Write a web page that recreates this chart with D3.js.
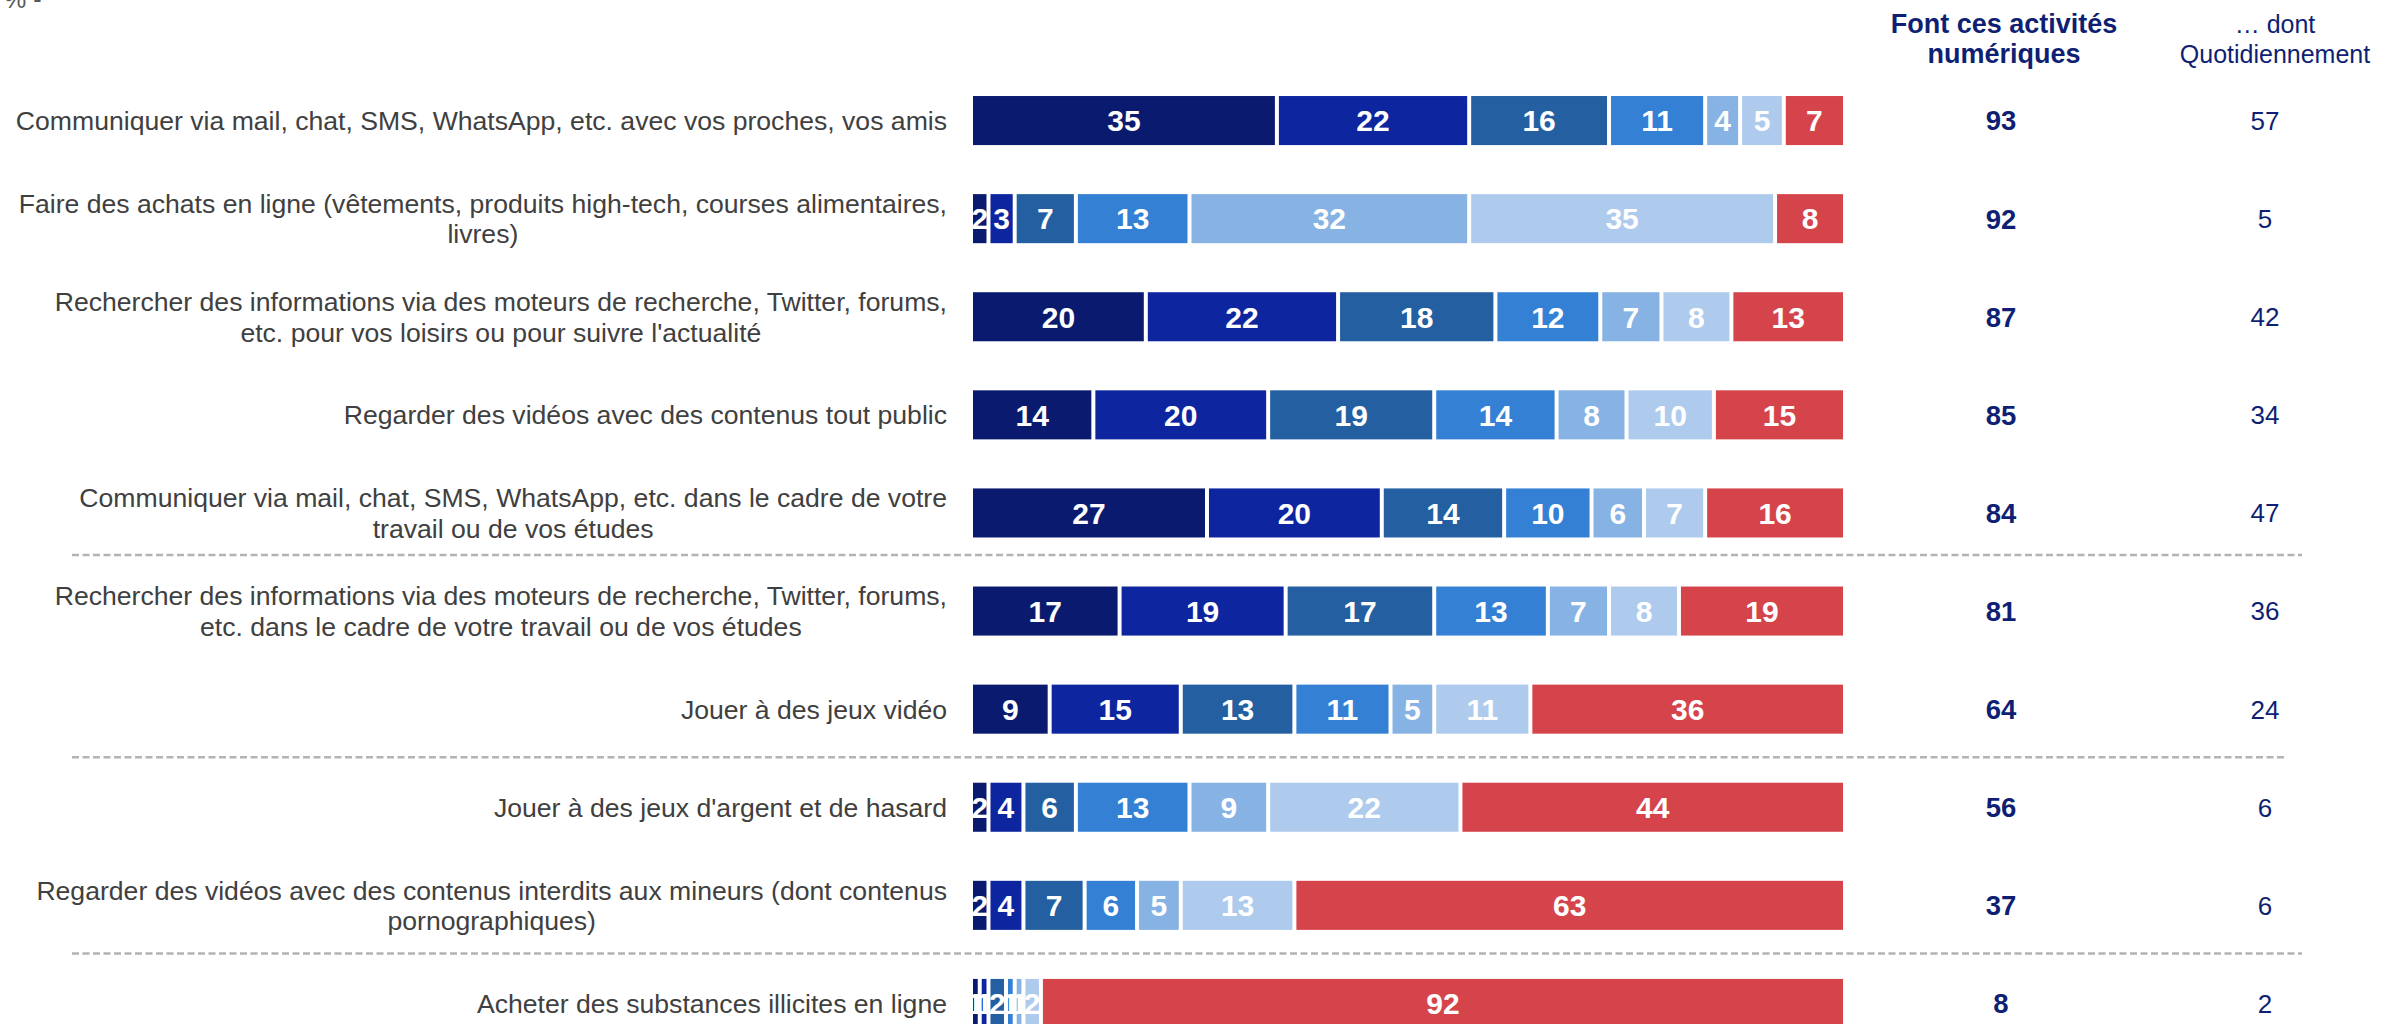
<!DOCTYPE html>
<html>
<head>
<meta charset="utf-8">
<script src="https://cdn.jsdelivr.net/npm/d3@7"></script>
<style>
  html, body { margin: 0; padding: 0; background: #fff; }
  svg { display: block; }
  text { font-family: "Liberation Sans", Arial, sans-serif; }
</style>
</head>
<body>
<svg id="chart" width="2382" height="1024"></svg>
<script>
// ---------- DATA ----------
const categories = [
  ["Communiquer via mail, chat, SMS, WhatsApp, etc. avec vos proches, vos amis"],
  ["Faire des achats en ligne (vêtements, produits high-tech, courses alimentaires,", "livres)"],
  ["Rechercher des informations via des moteurs de recherche, Twitter, forums,", "etc. pour vos loisirs ou pour suivre l'actualité"],
  ["Regarder des vidéos avec des contenus tout public"],
  ["Communiquer via mail, chat, SMS, WhatsApp, etc. dans le cadre de votre", "travail ou de vos études"],
  ["Rechercher des informations via des moteurs de recherche, Twitter, forums,", "etc. dans le cadre de votre travail ou de vos études"],
  ["Jouer à des jeux vidéo"],
  ["Jouer à des jeux d'argent et de hasard"],
  ["Regarder des vidéos avec des contenus interdits aux mineurs (dont contenus", "pornographiques)"],
  ["Acheter des substances illicites en ligne"]
];
const seriesValues = [
  [35, 22, 16, 11, 4, 5, 7],
  [2, 3, 7, 13, 32, 35, 8],
  [20, 22, 18, 12, 7, 8, 13],
  [14, 20, 19, 14, 8, 10, 15],
  [27, 20, 14, 10, 6, 7, 16],
  [17, 19, 17, 13, 7, 8, 19],
  [9, 15, 13, 11, 5, 11, 36],
  [2, 4, 6, 13, 9, 22, 44],
  [2, 4, 7, 6, 5, 13, 63],
  [1, 1, 2, 1, 1, 2, 92]
];
const totals = [93, 92, 87, 85, 84, 81, 64, 56, 37, 8];
const daily = [57, 5, 42, 34, 47, 36, 24, 6, 6, 2];
const headerTotal = ["Font ces activités", "numériques"];
const headerDaily = ["… dont", "Quotidiennement"];
const unitLabel = "% -";
const separatorsAfter = [4, 6, 8];
const segmentColors = ["#0a1b6f", "#0e25a0", "#235fa1", "#3480d4", "#86b2e4", "#aecbee", "#d6444b"];

// ---------- LAYOUT ----------
const svg = d3.select("#chart");
const x = d3.scaleLinear().domain([0, 100]).range([973, 1847]);
const y = d3.scaleBand().domain(d3.range(categories.length)).range([71.5, 1052.5]).paddingInner(0.5).paddingOuter(0.25);
const labelRight = 947;
const totalX = 2001;
const dailyX = 2265;
const navy = "#0f1f73";
const gap = 4;

// unit label
svg.append("text").attr("x", 4).attr("y", 8).attr("font-size", 25).attr("fill", "#595959").text(unitLabel);

// headers
svg.append("g").selectAll("text").data(headerTotal).join("text")
  .attr("x", totalX + 3).attr("y", (d, i) => 33 + i * 30)
  .attr("text-anchor", "middle").attr("font-size", 27).attr("font-weight", "bold")
  .attr("fill", navy).text(d => d);
svg.append("g").selectAll("text").data(headerDaily).join("text")
  .attr("x", 2275).attr("y", (d, i) => 33 + i * 30)
  .attr("text-anchor", "middle").attr("font-size", 25)
  .attr("fill", navy).text(d => d);

// separators
svg.append("g").selectAll("line").data(separatorsAfter).join("line")
  .attr("x1", 72)
  .attr("x2", (d, i) => i === 1 ? 2285 : 2302)
  .attr("y1", d => (y(d) + y.bandwidth() + y(d + 1)) / 2 - (d === 4 ? 7 : 1))
  .attr("y2", d => (y(d) + y.bandwidth() + y(d + 1)) / 2 - (d === 4 ? 7 : 1))
  .attr("stroke", "#b3b3b3").attr("stroke-width", 2.5).attr("stroke-dasharray", "7,3.5");

// rows
const rows = svg.append("g").selectAll("g.row").data(seriesValues).join("g").attr("class", "row");

rows.each(function (vals, ri) {
  const g = d3.select(this);
  let cum = 0;
  const segs = vals.map((v, si) => { const s = { v, si, start: cum }; cum += v; return s; });
  const yTop = y(ri), bh = y.bandwidth(), yc = yTop + bh / 2;

  g.selectAll("rect").data(segs).join("rect")
    .attr("x", d => x(d.start))
    .attr("y", yTop)
    .attr("width", d => Math.max(0.5, x(d.start + d.v) - x(d.start) - gap))
    .attr("height", bh)
    .attr("fill", d => segmentColors[d.si]);

  g.selectAll("text.val").data(segs).join("text").attr("class", "val")
    .attr("x", d => (x(d.start) + x(d.start + d.v) - gap) / 2)
    .attr("y", yc).attr("dy", "0.36em")
    .attr("text-anchor", "middle").attr("font-size", 30).attr("font-weight", "bold")
    .attr("fill", "#fff").text(d => d.v);

  // category label
  const lines = categories[ri];
  const lg = g.append("g");
  const texts = lg.selectAll("text").data(lines).join("text")
    .attr("y", (d, i) => yc + (i - (lines.length - 1) / 2) * 30.5)
    .attr("dy", "0.36em")
    .attr("font-size", 26.6).attr("fill", "#404040").text(d => d);
  let maxW = 0;
  texts.each(function () { maxW = Math.max(maxW, this.getComputedTextLength()); });
  texts.attr("x", labelRight - maxW / 2).attr("text-anchor", "middle");

  // totals
  g.append("text").attr("x", totalX).attr("y", yc).attr("dy", "0.36em")
    .attr("text-anchor", "middle").attr("font-size", 27.5).attr("font-weight", "bold")
    .attr("fill", navy).text(totals[ri]);
  g.append("text").attr("x", dailyX).attr("y", yc).attr("dy", "0.36em")
    .attr("text-anchor", "middle").attr("font-size", 26)
    .attr("fill", navy).text(daily[ri]);
});
</script>
</body>
</html>
